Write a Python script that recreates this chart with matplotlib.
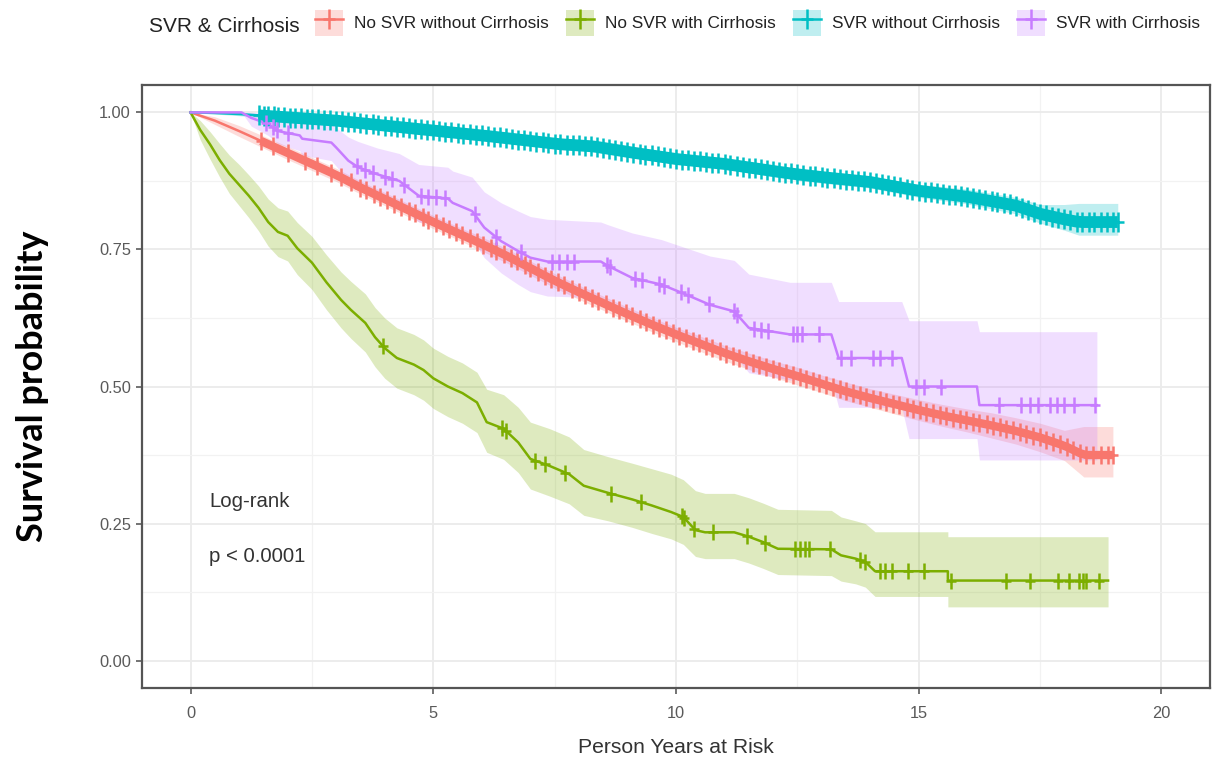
import numpy as np
import matplotlib
matplotlib.use("Agg")
import matplotlib.pyplot as plt
from matplotlib.path import Path
from matplotlib.patches import Patch
from matplotlib.lines import Line2D
from matplotlib.legend_handler import HandlerTuple

# ---------------- data ----------------
group_labels = ["No SVR without Cirrhosis", "No SVR with Cirrhosis",
                "SVR without Cirrhosis", "SVR with Cirrhosis"]
group_colors = ["#F8766D", "#7CAE00", "#00BFC4", "#C77CFF"]
legend_title = "SVR & Cirrhosis"

# No SVR without Cirrhosis (red)
red_t = [0, 0.5, 1.0, 1.5, 2.0, 2.5, 3.0, 3.5, 4.0, 4.5, 5.0, 5.5, 6.0, 6.5, 7.0, 7.5,
         8.0, 8.5, 9.0, 9.5, 10.0, 10.5, 11.0, 11.5, 12.0, 12.5, 13.0, 13.5, 14.0, 14.5,
         15.0, 15.5, 16.0, 16.5, 17.0, 17.5, 18.0, 18.4, 19.0]
red_s = [1.0, 0.985, 0.966, 0.946, 0.926, 0.906, 0.886, 0.863, 0.842, 0.821, 0.800, 0.780,
         0.760, 0.739, 0.716, 0.693, 0.672, 0.652, 0.632, 0.613, 0.595, 0.578, 0.561, 0.546,
         0.532, 0.519, 0.505, 0.491, 0.479, 0.468, 0.457, 0.447, 0.438, 0.429, 0.419, 0.407,
         0.392, 0.375, 0.375]
red_lo = [1.0, 0.978, 0.956, 0.935, 0.914, 0.894, 0.874, 0.851, 0.830, 0.809, 0.788, 0.768,
          0.747, 0.726, 0.703, 0.680, 0.659, 0.639, 0.619, 0.600, 0.582, 0.564, 0.547, 0.531,
          0.517, 0.503, 0.489, 0.474, 0.462, 0.450, 0.438, 0.427, 0.417, 0.406, 0.395, 0.381,
          0.365, 0.335, 0.335]
red_hi = [1.0, 0.992, 0.976, 0.957, 0.938, 0.918, 0.898, 0.875, 0.854, 0.833, 0.812, 0.792,
          0.773, 0.752, 0.729, 0.706, 0.685, 0.665, 0.645, 0.626, 0.608, 0.592, 0.575, 0.561,
          0.547, 0.535, 0.521, 0.508, 0.496, 0.486, 0.476, 0.467, 0.459, 0.452, 0.443, 0.433,
          0.420, 0.427, 0.427]
red_cens = [1.45, 1.7, 2.0, 2.35, 2.6, 2.9, 3.1, 3.3, 3.5, 3.62, 3.78, 3.9, 4.05, 4.2, 4.33,
            4.5, 4.62, 4.78, 4.9, 5.05, 5.2, 5.33, 5.47, 5.6, 5.75, 5.9, 6.03, 6.18, 6.3,
            6.45, 6.6, 6.72, 6.88, 7.0, 7.15, 7.3, 7.42, 7.57, 7.7, 7.85, 8.0, 8.13, 8.27,
            8.4, 8.55, 8.7, 8.83, 8.97, 9.1, 9.25, 9.38, 9.52, 9.66, 9.8, 9.93, 10.07, 10.2,
            10.35, 10.48, 10.62, 10.75, 10.9, 11.03, 11.17, 11.3, 11.45, 11.58, 11.72, 11.85,
            12.0, 12.13, 12.27, 12.4, 12.55, 12.68, 12.82, 12.95, 13.1, 13.23, 13.37, 13.5,
            13.65, 13.78, 13.92, 14.05, 14.2, 14.33, 14.47, 14.6, 14.75, 14.88, 15.02, 15.15,
            15.3, 15.43, 15.57, 15.7, 15.85, 15.98, 16.12, 16.25, 16.4, 16.53, 16.67, 16.8,
            16.95, 17.08, 17.22, 17.35, 17.5, 17.63, 17.77, 17.9, 18.05, 18.18, 18.32, 18.45,
            18.6, 18.75, 18.9, 19.0]

# No SVR with Cirrhosis (green)
green_t = [0, 0.2, 0.4, 0.6, 0.8, 1.0, 1.2, 1.4, 1.6, 1.8, 2.0, 2.2, 2.5, 2.8, 3.1, 3.3,
           3.6, 3.8, 4.0, 4.25, 4.6, 4.8, 5.0, 5.3, 5.6, 5.9, 6.1, 6.45, 6.75, 7.0, 7.4,
           7.8, 8.1, 8.6, 9.1, 9.5, 9.9, 10.15, 10.4, 10.6, 11.2, 11.5, 11.8, 12.1, 13.2,
           13.4, 13.7, 13.9, 14.1, 15.6, 15.6, 18.9]
green_s = [1.0, 0.968, 0.942, 0.913, 0.888, 0.868, 0.848, 0.826, 0.800, 0.782, 0.775, 0.752,
           0.726, 0.690, 0.658, 0.640, 0.616, 0.590, 0.570, 0.552, 0.540, 0.530, 0.515,
           0.500, 0.488, 0.471, 0.435, 0.423, 0.398, 0.368, 0.355, 0.340, 0.319, 0.306,
           0.294, 0.283, 0.271, 0.262, 0.238, 0.234, 0.234, 0.226, 0.216, 0.204, 0.203,
           0.192, 0.186, 0.180, 0.163, 0.163, 0.146, 0.146]
green_lo = [1.0, 0.950, 0.915, 0.882, 0.852, 0.830, 0.808, 0.784, 0.756, 0.737, 0.729, 0.704,
            0.677, 0.640, 0.607, 0.588, 0.563, 0.536, 0.515, 0.497, 0.485, 0.475, 0.460,
            0.445, 0.433, 0.416, 0.380, 0.367, 0.343, 0.313, 0.300, 0.286, 0.265, 0.255,
            0.243, 0.232, 0.222, 0.212, 0.190, 0.186, 0.186, 0.178, 0.168, 0.157, 0.155,
            0.145, 0.140, 0.134, 0.117, 0.117, 0.098, 0.098]
green_hi = [1.0, 0.985, 0.965, 0.943, 0.922, 0.905, 0.886, 0.866, 0.842, 0.826, 0.820, 0.799,
            0.774, 0.740, 0.709, 0.692, 0.669, 0.644, 0.625, 0.607, 0.595, 0.585, 0.570,
            0.555, 0.543, 0.526, 0.495, 0.485, 0.462, 0.435, 0.423, 0.408, 0.385, 0.372,
            0.360, 0.350, 0.340, 0.330, 0.310, 0.305, 0.305, 0.297, 0.287, 0.276, 0.274,
            0.262, 0.255, 0.250, 0.235, 0.235, 0.226, 0.226]
green_cens = [3.97, 6.42, 6.49, 7.1, 7.3, 7.72, 8.66, 9.27, 10.12, 10.17, 10.37, 10.77, 11.46,
              11.83, 12.45, 12.55, 12.65, 12.73, 13.18, 13.8, 13.9, 14.2, 14.3, 14.45, 14.77,
              15.1, 15.67, 16.8, 17.3, 17.87, 18.1, 18.3, 18.38, 18.45, 18.72]

# SVR without Cirrhosis (cyan)
cyan_t = [0, 0.5, 1.0, 1.5, 2.0, 3.0, 4.0, 5.0, 6.0, 7.0, 7.6, 8.3, 9.0, 10.0, 11.0, 12.0,
          12.5, 13.0, 14.0, 15.0, 16.0, 17.0, 17.5, 18.0, 18.3, 19.1]
cyan_s = [1.0, 0.999, 0.997, 0.994, 0.991, 0.985, 0.976, 0.967, 0.958, 0.948, 0.942, 0.938,
          0.928, 0.915, 0.906, 0.893, 0.887, 0.882, 0.873, 0.857, 0.846, 0.830, 0.815,
          0.805, 0.800, 0.800]
cyan_lo = [1.0, 0.997, 0.994, 0.990, 0.986, 0.979, 0.969, 0.960, 0.950, 0.940, 0.934, 0.930,
           0.919, 0.906, 0.897, 0.883, 0.876, 0.871, 0.862, 0.845, 0.833, 0.815, 0.798,
           0.785, 0.776, 0.776]
cyan_hi = [1.0, 1.0, 0.999, 0.997, 0.995, 0.990, 0.982, 0.974, 0.965, 0.956, 0.950, 0.946,
           0.936, 0.924, 0.915, 0.903, 0.897, 0.892, 0.884, 0.869, 0.860, 0.845, 0.832,
           0.832, 0.834, 0.834]
cyan_cens = [1.4, 1.52, 1.6, 1.72, 1.8, 1.93, 2.05, 2.15, 2.28, 2.4, 2.5, 2.63, 2.75, 2.88,
             3.0, 3.12, 3.25, 3.37, 3.5, 3.62, 3.75, 3.87, 4.0, 4.12, 4.25, 4.37, 4.5, 4.62,
             4.75, 4.87, 5.0, 5.12, 5.25, 5.37, 5.5, 5.62, 5.75, 5.87, 6.0, 6.12, 6.25, 6.37,
             6.5, 6.62, 6.75, 6.87, 7.0, 7.12, 7.25, 7.37, 7.5, 7.62, 7.75, 7.87, 8.0, 8.12,
             8.25, 8.37, 8.5, 8.62, 8.75, 8.87, 9.0, 9.12, 9.25, 9.37, 9.5, 9.62, 9.75, 9.87,
             10.0, 10.12, 10.25, 10.37, 10.5, 10.62, 10.75, 10.87, 11.0, 11.12, 11.25, 11.37,
             11.5, 11.62, 11.75, 11.87, 12.0, 12.12, 12.25, 12.37, 12.5, 12.62, 12.75, 12.87,
             13.0, 13.12, 13.25, 13.37, 13.5, 13.62, 13.75, 13.87, 14.0, 14.12, 14.25, 14.37,
             14.5, 14.62, 14.75, 14.87, 15.0, 15.12, 15.25, 15.37, 15.5, 15.62, 15.75, 15.87,
             16.0, 16.12, 16.25, 16.37, 16.5, 16.62, 16.75, 16.87, 17.0, 17.12, 17.25, 17.37,
             17.5, 17.62, 17.75, 17.87, 18.0, 18.12, 18.25, 18.37, 18.5, 18.62, 18.75, 18.87,
             19.0, 19.1]

# SVR with Cirrhosis (purple)
purple_t = [0, 1.05, 1.25, 1.6, 1.8, 2.25, 2.3, 2.9, 3.0, 3.25, 3.45, 3.85, 4.3, 4.7, 5.3,
            5.4, 5.8, 6.05, 6.4, 6.75, 7.0, 7.35, 8.45, 8.6, 9.1, 9.7, 10.2, 10.7, 11.2,
            11.5, 12.35, 13.2, 13.35, 14.65, 14.8, 16.2, 16.25, 18.67]
purple_s = [1.0, 1.0, 0.990, 0.979, 0.966, 0.958, 0.952, 0.945, 0.936, 0.912, 0.900, 0.887,
            0.875, 0.848, 0.843, 0.835, 0.820, 0.790, 0.765, 0.747, 0.735, 0.728, 0.728,
            0.720, 0.698, 0.686, 0.668, 0.649, 0.637, 0.607, 0.595, 0.595, 0.552, 0.552,
            0.500, 0.500, 0.466, 0.466]
purple_lo = [1.0, 1.0, 0.975, 0.958, 0.943, 0.930, 0.922, 0.912, 0.902, 0.875, 0.862, 0.845,
             0.830, 0.800, 0.795, 0.785, 0.768, 0.735, 0.707, 0.686, 0.673, 0.665, 0.662,
             0.652, 0.628, 0.614, 0.593, 0.572, 0.558, 0.525, 0.512, 0.512, 0.462, 0.462,
             0.405, 0.405, 0.366, 0.366]
purple_hi = [1.0, 1.0, 1.0, 0.998, 0.993, 0.990, 0.987, 0.980, 0.972, 0.955, 0.947, 0.935,
             0.925, 0.905, 0.900, 0.893, 0.882, 0.855, 0.835, 0.820, 0.810, 0.805, 0.800,
             0.795, 0.780, 0.768, 0.753, 0.738, 0.730, 0.705, 0.690, 0.690, 0.655, 0.655,
             0.620, 0.620, 0.600, 0.600]
purple_cens = [1.55, 1.7, 1.78, 2.0, 3.42, 3.6, 3.75, 4.0, 4.15, 4.4, 4.75, 4.9, 5.05, 5.25,
               5.85, 6.3, 6.8, 7.45, 7.6, 7.75, 7.9, 8.57, 8.65, 9.15, 9.3, 9.65, 9.75, 10.1,
               10.25, 10.67, 11.2, 11.26, 11.6, 11.75, 11.9, 12.4, 12.5, 12.6, 12.95, 13.4,
               13.6, 14.05, 14.2, 14.45, 14.95, 15.1, 15.45, 16.65, 17.1, 17.3, 17.45, 17.7,
               17.85, 18.0, 18.2, 18.64]

x_ticks = [0, 5, 10, 15, 20]
y_ticks = [0.00, 0.25, 0.50, 0.75, 1.00]
y_tick_labels = ["0.00", "0.25", "0.50", "0.75", "1.00"]
x_label = "Person Years at Risk"
y_label = "Survival probability"
annot_lines = ["Log-rank", "p < 0.0001"]

# ---------------- drawing ----------------
plt.rcParams["font.family"] = ["Liberation Sans", "DejaVu Sans"]

W, H = 1222, 757
fig = plt.figure(figsize=(W / 100, H / 100), dpi=100)
ax = fig.add_axes([142 / W, 1 - 688 / H, (1210 - 142) / W, (688 - 85) / H])
ax.set_xlim(-1, 21)
ax.set_ylim(-0.05, 1.05)

plus = Path([(-0.28, 0), (0.28, 0), (0, -0.5), (0, 0.5)],
            [Path.MOVETO, Path.LINETO, Path.MOVETO, Path.LINETO])

groups = [
    (red_t, red_s, red_lo, red_hi, red_cens),
    (green_t, green_s, green_lo, green_hi, green_cens),
    (cyan_t, cyan_s, cyan_lo, cyan_hi, cyan_cens),
    (purple_t, purple_s, purple_lo, purple_hi, purple_cens),
]

for (t, s, lo, hi, cz), c in zip(groups, group_colors):
    ax.fill_between(t, lo, hi, color=c, alpha=0.25, lw=0, zorder=1)

# thickness of the dense band formed by the censoring marks (0 = none)
band_w = [6.0, 0, 8.5, 0]
mark_s = [13, 12, 15, 12]
for (t, s, lo, hi, cz), c, bw, ms in zip(groups, group_colors, band_w, mark_s):
    ax.plot(t, s, color=c, lw=1.8, zorder=3)
    cs = np.interp(cz, t, s)
    if bw > 0:
        ax.plot(cz, cs, color=c, lw=bw, zorder=3, solid_capstyle="butt")
    ax.plot(cz, cs, ls="none", marker=plus, ms=ms, mew=1.8, color=c, zorder=4)

# grid
ax.set_xticks(x_ticks)
ax.set_yticks(y_ticks)
ax.set_yticklabels(y_tick_labels)
ax.set_xticks([2.5, 7.5, 12.5, 17.5], minor=True)
ax.set_yticks([0.125, 0.375, 0.625, 0.875], minor=True)
ax.grid(True, which="major", color="#EBEBEB", lw=1.3, zorder=0)
ax.grid(True, which="minor", color="#F2F2F2", lw=0.9, zorder=0)
ax.set_axisbelow(True)
ax.tick_params(which="minor", length=0)
ax.tick_params(which="major", length=4, width=1.1, color="#4D4D4D",
               labelsize=11.8, labelcolor="#5A5A5A")
ax.tick_params(axis="x", pad=9)
ax.tick_params(axis="y", pad=4)
for sp in ax.spines.values():
    sp.set_color("#555555")
    sp.set_linewidth(1.6)

# annotation
ax.text(0.39, 0.281, annot_lines[0], fontsize=14.7, color="#333333", va="baseline")
ax.text(0.39, 0.179, annot_lines[1], fontsize=14.7, color="#333333", va="baseline")

# axis titles
fig.text(676 / W, 1 - 753 / H, x_label, fontsize=15.2, color="#333333",
         ha="center", va="baseline")
fig.text(33 / W, 1 - 386 / H, y_label, fontsize=26, fontweight="bold", color="black",
         rotation=90, ha="center", va="center", family=["Lato", "DejaVu Sans"])

# legend
fig.text(149 / W, 1 - 27 / H, legend_title, fontsize=15, color="#222222",
         ha="left", va="center")
handles = []
for c in group_colors:
    p = Patch(facecolor=c, alpha=0.25, edgecolor="none")
    l = Line2D([], [], color=c, lw=1.8, marker=plus, ms=15, mew=1.8)
    handles.append((p, l))
leg_fs = 12.4
fs_px = leg_fs * 100 / 72
fig.legend(handles, group_labels, handler_map={tuple: HandlerTuple(ndivide=1, pad=0)},
           loc="center left", bbox_to_anchor=(315 / W, 1 - 23 / H), ncol=4,
           frameon=False, fontsize=leg_fs, borderaxespad=0, borderpad=0,
           handlelength=28 / fs_px, handleheight=34 / fs_px,
           handletextpad=11 / fs_px, columnspacing=17 / fs_px,
           labelcolor="#222222")

fig.savefig("out.png", dpi=100)
